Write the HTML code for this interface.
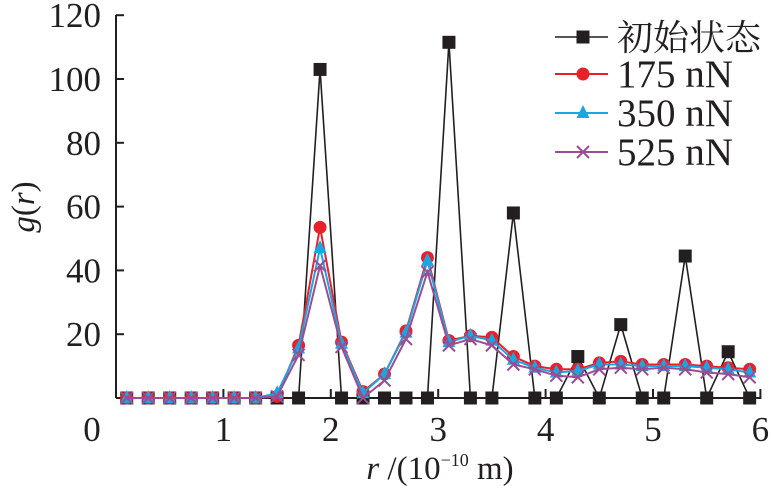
<!DOCTYPE html>
<html><head><meta charset="utf-8"><style>
body{margin:0;background:#fff;}
svg text{font-family:"Liberation Serif","Noto Serif CJK SC",serif;fill:#231f20;}
</style></head><body>
<svg id="chart" width="771" height="496" viewBox="0 0 771 496" xmlns="http://www.w3.org/2000/svg">
<g id="axes"></g>
<g id="series"></g>
<g id="legend"></g>
</svg>
<script>
const rValues=[0.1,0.3,0.5,0.7,0.9,1.1,1.3,1.5,1.7,1.9,2.1,2.3,2.5,2.7,2.9,3.1,3.3,3.5,3.7,3.9,4.1,4.3,4.5,4.7,4.9,5.1,5.3,5.5,5.7,5.9];
const initialValues=[0,0,0,0,0,0,0,0,0,103,0,0,0,0,0,111.5,0,0,58,0,0,13,0,23,0,0,44.5,0,14.5,0];
const n175Values=[0,0,0,0,0,0,0,0.5,16.5,53.5,17.5,2,7.5,21,44,18,19.5,19,13,10,9,9,11,11.5,10.5,10.5,10.5,10,9.5,9];
const n350Values=[0,0,0,0,0,0,0,1.5,15.5,47,17,1.5,7.5,20.5,43,17.5,19.5,18,12,9.5,8,8.5,10.5,10.5,10,10,10,9.5,9,8];
const n525Values=[0,0,0,0,0,0,0,0.5,13.5,41.5,16,0,5.5,18.5,39.5,16.5,18.5,16.5,10.5,9,7,6.5,9,9.5,9,9.5,9,8,7.5,6.5];
const seriesNames=["初始状态","175 nN","350 nN","525 nN"];
const xTickValues=[1,2,3,4,5,6];
const xTickLabels=["0","1","2","3","4","5","6"];
const yTickValues=[20,40,60,80,100,120];

const NS="http://www.w3.org/2000/svg";
const X0=116,XS=107.4,Y0=398,YS=3.19;
function xScale(v){return X0+v*XS;}
function yScale(v){return Y0-v*YS;}
function mk(tag,attrs,parent){const e=document.createElementNS(NS,tag);for(const k in attrs)e.setAttribute(k,attrs[k]);parent.appendChild(e);return e;}
const axes=document.getElementById('axes'),series=document.getElementById('series'),legend=document.getElementById('legend');

let a=mk('line',{x1:X0,y1:15,x2:X0,y2:Y0,stroke:'#231f20','stroke-width':2},axes);


a=mk('line',{x1:X0,y1:Y0,x2:xScale(6)+1,y2:Y0,stroke:'#231f20','stroke-width':2},axes);


yTickValues.forEach(v=>{
  const t=mk('line',{x1:X0,y1:yScale(v),x2:X0+8,y2:yScale(v),stroke:'#231f20','stroke-width':2},axes);
  
  
  const l=mk('text',{x:101,y:yScale(v)+12,'font-size':35,'text-anchor':'end'},axes);l.textContent=String(v);
  
  
});
xTickValues.forEach(v=>{
  const t=mk('line',{x1:xScale(v),y1:Y0,x2:xScale(v),y2:Y0-9,stroke:'#231f20','stroke-width':2},axes);
  
  
});
xTickLabels.forEach((s,i)=>{
  const px=i===0?92:xScale(i);
  const l=mk('text',{x:px,y:441,'font-size':35,'text-anchor':'middle'},axes);l.textContent=s;
  
  
});
const xt=mk('text',{x:440,y:479,'font-size':33,'text-anchor':'middle'},axes);


xt.innerHTML='<tspan font-style="italic">r</tspan> /(10<tspan font-size="18" dy="-13">−10</tspan><tspan dy="13"> m)</tspan>';
const yt=mk('text',{x:0,y:0,'font-size':33,'text-anchor':'middle',transform:'translate(34,207) rotate(-90)'},axes);


yt.innerHTML='<tspan font-style="italic">g</tspan>(<tspan font-style="italic">r</tspan>)';

function marker(type,x,y,color,parent){
  let m;
  if(type==='square')m=mk('rect',{x:x-6.5,y:y-6.5,width:13,height:13,fill:color},parent);
  else if(type==='circle')m=mk('circle',{cx:x,cy:y,r:6.5,fill:color},parent);
  else if(type==='triangle')m=mk('polygon',{points:`${x},${y-8} ${x-6.5},${y+5} ${x+6.5},${y+5}`,fill:color},parent);
  else m=mk('path',{d:`M${x-6},${y-6}L${x+6},${y+6}M${x+6},${y-6}L${x-6},${y+6}`,stroke:color,'stroke-width':2,fill:'none'},parent);
  return m;
}
const defs=[[initialValues,'#231f20','square',1.6,'series-initial'],[n175Values,'#e8202a','circle',2,'series-175nn'],[n350Values,'#1ba6e1','triangle',2,'series-350nn'],[n525Values,'#9a4d92','cross',2,'series-525nn']];
defs.forEach(([vals,col,type,sw,name])=>{
  const g=mk('g',{},series);
  
  
  const pts=vals.map((v,i)=>xScale(rValues[i])+','+yScale(v)).join(' ');
  const pl=mk('polyline',{points:pts,fill:'none',stroke:col,'stroke-width':sw},g);
  
  
  vals.forEach((v,i)=>{
    const m=marker(type,xScale(rValues[i]),yScale(v),col,g);
    
    
  });
});
const ly=[37,74,113,152];
defs.forEach(([vals,col,type,sw,name],i)=>{
  const g=mk('g',{},legend);
  
  
  mk('line',{x1:555,y1:ly[i],x2:608,y2:ly[i],stroke:col,'stroke-width':sw},g);
  marker(type,583,ly[i],col,g);
  const t=mk('text',{x:617,y:ly[i]+13,'font-size':(i===0?36:39)},g);t.textContent=seriesNames[i];
});
</script>
</body></html>
